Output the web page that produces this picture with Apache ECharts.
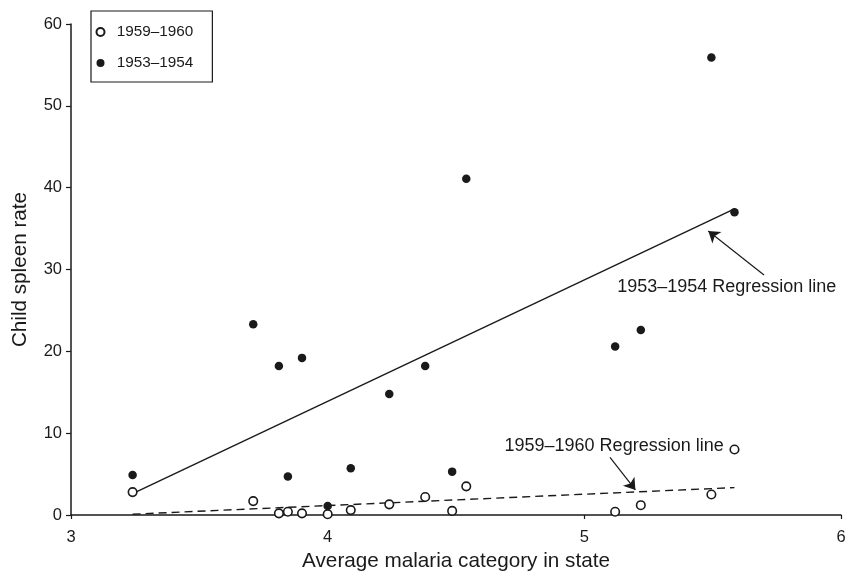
<!DOCTYPE html>
<html>
<head>
<meta charset="utf-8">
<script src="https://cdn.jsdelivr.net/npm/echarts@6/dist/echarts.min.js"></script>
<style>
html,body{margin:0;padding:0;background:#fff;}
#c{width:847px;height:572px;}
</style>
</head>
<body>
<div id="c"></div>
<script>
// State averages of malaria category (x)
const malariaCategory = [3.24, 3.71, 3.81, 3.845, 3.90, 4.0, 4.09, 4.24, 4.38, 4.485, 4.54, 5.12, 5.22, 5.495, 5.585];
// Child spleen rate, 1953–1954
const spleen1953 = [4.9, 23.3, 18.2, 4.7, 19.2, 1.1, 5.7, 14.8, 18.2, 5.3, 41.1, 20.6, 22.6, 55.9, 37.0];
// Child spleen rate, 1959–1960
const spleen1959 = [2.8, 1.7, 0.2, 0.4, 0.2, 0.1, 0.6, 1.3, 2.2, 0.5, 3.5, 0.4, 1.2, 2.5, 8.0];
// Regression line end points [x, y]
const reg1953 = [[3.24, 2.6], [5.585, 37.4]];
const reg1959 = [[3.24, 0.1], [5.585, 3.35]];
const seriesNames = ['1959–1960', '1953–1954'];
const xTicks = [3, 4, 5, 6];
const yTicks = [0, 10, 20, 30, 40, 50, 60];

const pts1953 = malariaCategory.map((x, i) => [x, spleen1953[i]]);
const pts1959 = malariaCategory.map((x, i) => [x, spleen1959[i]]);

const FONT = 'Liberation Sans, Arial, Helvetica, sans-serif';
const INK = '#1a1a1a';

const chart = echarts.init(document.getElementById('c'), null, {renderer: 'canvas'});
chart.setOption({
  animation: false,
  backgroundColor: '#fff',
  textStyle: {fontFamily: FONT, color: INK},
  grid: {left: 71, right: 6, top: 24, bottom: 57, containLabel: false, outerBoundsMode: 'none'},
  legend: {
    data: seriesNames,
    orient: 'vertical',
    left: 91, top: 11,
    padding: [13, 19, 11, 4.5],
    itemWidth: 22.6, itemHeight: 8,
    itemGap: 15,
    borderColor: INK, borderWidth: 1.2,
    textStyle: {fontFamily: FONT, fontSize: 15.3, color: INK, lineHeight: 16},
    selectedMode: false
  },
  xAxis: {
    type: 'value', min: xTicks[0], max: xTicks[xTicks.length - 1], interval: 1,
    name: 'Average malaria category in state', nameLocation: 'middle', nameGap: 29,
    nameTextStyle: {fontFamily: FONT, fontSize: 20.7, color: INK},
    axisLine: {show: true, lineStyle: {color: INK, width: 1.5}},
    axisTick: {show: true, length: 4, lineStyle: {color: INK, width: 1.2}},
    axisLabel: {fontFamily: FONT, fontSize: 16.5, color: INK, margin: 14},
    splitLine: {show: false}
  },
  yAxis: {
    type: 'value', min: yTicks[0], max: yTicks[yTicks.length - 1], interval: 10,
    name: 'Child spleen rate', nameLocation: 'middle', nameGap: 40,
    nameTextStyle: {fontFamily: FONT, fontSize: 20.7, color: INK},
    axisLine: {show: true, lineStyle: {color: INK, width: 1.5}},
    axisTick: {show: true, length: 5, lineStyle: {color: INK, width: 1.2}},
    axisLabel: {fontFamily: FONT, fontSize: 16.5, color: INK, margin: 9},
    splitLine: {show: false}
  },
  series: [
    {
      name: 'reg1953', type: 'line', data: reg1953, symbol: 'none',
      lineStyle: {color: INK, width: 1.4}, z: 2,
      markLine: {
        silent: true, symbol: ['none', 'arrow'], symbolSize: 11,
        lineStyle: {color: INK, width: 1.2, type: 'solid'},
        label: {show: false},
        data: [[{coord: [5.700, 29.33]}, {coord: [5.483, 34.71]}]]
      },
      markPoint: {
        silent: true, symbol: 'circle', symbolSize: 1,
        itemStyle: {color: 'rgba(0,0,0,0)'},
        label: {show: true, position: 'inside', fontFamily: FONT, fontSize: 18, color: INK, formatter: '1953–1954 Regression line'},
        data: [{coord: [5.555, 27.86]}]
      }
    },
    {
      name: 'reg1959', type: 'line', data: reg1959, symbol: 'none',
      lineStyle: {color: INK, width: 1.4, type: [8, 5]}, z: 2,
      markLine: {
        silent: true, symbol: ['none', 'arrow'], symbolSize: 11,
        lineStyle: {color: INK, width: 1.2, type: 'solid'},
        label: {show: false},
        data: [[{coord: [5.100, 7.05]}, {coord: [5.199, 3.06]}]]
      },
      markPoint: {
        silent: true, symbol: 'circle', symbolSize: 1,
        itemStyle: {color: 'rgba(0,0,0,0)'},
        label: {show: true, position: 'inside', fontFamily: FONT, fontSize: 18, color: INK, formatter: '1959–1960 Regression line'},
        data: [{coord: [5.116, 8.47]}]
      }
    },
    {
      name: seriesNames[1], type: 'scatter', data: pts1953, symbol: 'circle', symbolSize: 8.5,
      itemStyle: {color: INK, opacity: 1}, z: 3
    },
    {
      name: seriesNames[0], type: 'scatter', data: pts1959, symbol: 'circle', symbolSize: 8.5,
      itemStyle: {color: '#fff', borderColor: INK, borderWidth: 1.6, opacity: 1}, z: 4
    }
  ]
});
</script>
</body>
</html>
